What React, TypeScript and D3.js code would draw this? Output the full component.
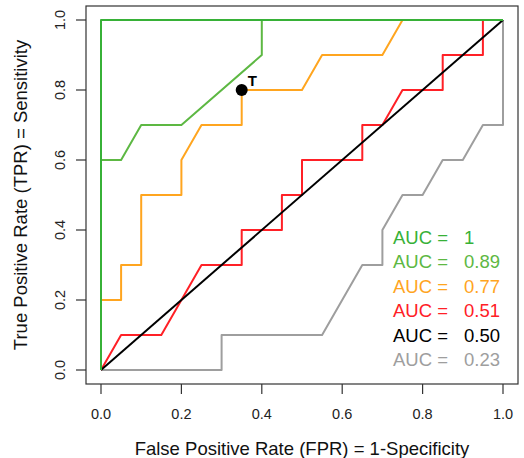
import React from "react";
import * as d3 from "d3";

const ticks = [0, 0.2, 0.4, 0.6, 0.8, 1.0];
const tickLabels = ["0.0", "0.2", "0.4", "0.6", "0.8", "1.0"];

const perfectFPR = [0, 0, 1];
const perfectTPR = [0, 1, 1];
const goodFPR = [0, 0, 0.05, 0.1, 0.2, 0.4, 0.4, 1];
const goodTPR = [0, 0.6, 0.6, 0.7, 0.7, 0.9, 1, 1];
const fairFPR = [0, 0, 0.05, 0.05, 0.1, 0.1, 0.2, 0.2, 0.25, 0.35, 0.35, 0.5, 0.55, 0.7, 0.75, 1];
const fairTPR = [0, 0.2, 0.2, 0.3, 0.3, 0.5, 0.5, 0.6, 0.7, 0.7, 0.8, 0.8, 0.9, 0.9, 1, 1];
const randFPR = [0, 0.05, 0.15, 0.25, 0.35, 0.35, 0.45, 0.45, 0.5, 0.5, 0.65, 0.65, 0.7, 0.75, 0.85, 0.85, 0.95, 0.95, 1];
const randTPR = [0, 0.1, 0.1, 0.3, 0.3, 0.4, 0.4, 0.5, 0.5, 0.6, 0.6, 0.7, 0.7, 0.8, 0.8, 0.9, 0.9, 1, 1];
const diagFPR = [0, 1];
const diagTPR = [0, 1];
const poorFPR = [0, 0.3, 0.3, 0.55, 0.65, 0.7, 0.7, 0.75, 0.8, 0.85, 0.9, 0.95, 1, 1];
const poorTPR = [0, 0, 0.1, 0.1, 0.3, 0.3, 0.4, 0.5, 0.5, 0.6, 0.6, 0.7, 0.7, 1];

const aucLabels = ["1", "0.89", "0.77", "0.51", "0.50", "0.23"];
const aucColors = ["#37B137", "#5DB843", "#FFA51F", "#FF2026", "#000000", "#9E9E9E"];

const thresholdPoint = { fpr: 0.35, tpr: 0.8, label: "T" };

const FONT = "'Liberation Sans', Arial, sans-serif";

export default function App() {
  const x = d3.scaleLinear().domain([0, 1]).range([101, 503]);
  const y = d3.scaleLinear().domain([0, 1]).range([370, 20]);
  const line = d3
    .line<[number, number]>()
    .x((d) => x(d[0]))
    .y((d) => y(d[1]));
  const zip = (a: number[], b: number[]) => a.map((v, i) => [v, b[i]] as [number, number]);

  const curves = [
    { data: zip(poorFPR, poorTPR), color: aucColors[5], w: 2 },
    { data: zip(randFPR, randTPR), color: aucColors[3], w: 2 },
    { data: zip(diagFPR, diagTPR), color: aucColors[4], w: 2 },
    { data: zip(fairFPR, fairTPR), color: aucColors[2], w: 2 },
    { data: zip(goodFPR, goodTPR), color: aucColors[1], w: 2 },
    { data: zip(perfectFPR, perfectTPR), color: aucColors[0], w: 2 },
  ];

  return (
    <svg
      width={524}
      height={458}
      style={{ position: "absolute", left: 0, top: 0, background: "#fff" }}
      fontFamily={FONT}
    >
      <rect x={0} y={0} width={524} height={458} fill="#fff" />
      {curves.map((c, i) => (
        <path
          key={i}
          d={line(c.data) || ""}
          fill="none"
          stroke={c.color}
          strokeWidth={c.w}
          strokeLinejoin="round"
        />
      ))}
      <circle cx={x(thresholdPoint.fpr)} cy={y(thresholdPoint.tpr)} r={6} fill="#000" />
      <text
        x={x(thresholdPoint.fpr) + 6}
        y={y(thresholdPoint.tpr) - 4}
        fontSize={15}
        fontWeight="bold"
        fill="#000"
      >
        {thresholdPoint.label}
      </text>
      <rect x={86} y={6} width={432} height={378} fill="none" stroke="#333" strokeWidth={1.2} />
      {ticks.map((t, i) => (
        <g key={"x" + i}>
          <line x1={x(t)} x2={x(t)} y1={384} y2={394} stroke="#333" strokeWidth={1.2} />
          <text x={x(t)} y={418.5} fontSize={14.5} textAnchor="middle" fill="#222">
            {tickLabels[i]}
          </text>
        </g>
      ))}
      {ticks.map((t, i) => (
        <g key={"y" + i}>
          <line x1={76} x2={86} y1={y(t)} y2={y(t)} stroke="#333" strokeWidth={1.2} />
          <text
            transform={`translate(65,${y(t)}) rotate(-90)`}
            fontSize={14.5}
            textAnchor="middle"
            fill="#222"
          >
            {tickLabels[i]}
          </text>
        </g>
      ))}
      <text x={302} y={455} fontSize={18.5} textAnchor="middle" fill="#111">
        False Positive Rate (FPR) = 1-Specificity
      </text>
      <text
        transform={`translate(26.7,195) rotate(-90)`}
        fontSize={18.5}
        textAnchor="middle"
        fill="#111"
      >
        True Positive Rate (TPR) = Sensitivity
      </text>
      {aucLabels.map((v, i) => (
        <g key={"l" + i} fill={aucColors[i]} fontSize={18.5}>
          <text x={393} y={243.5 + i * 24.5}>AUC =</text>
          <text x={464} y={243.5 + i * 24.5}>{v}</text>
        </g>
      ))}
    </svg>
  );
}
